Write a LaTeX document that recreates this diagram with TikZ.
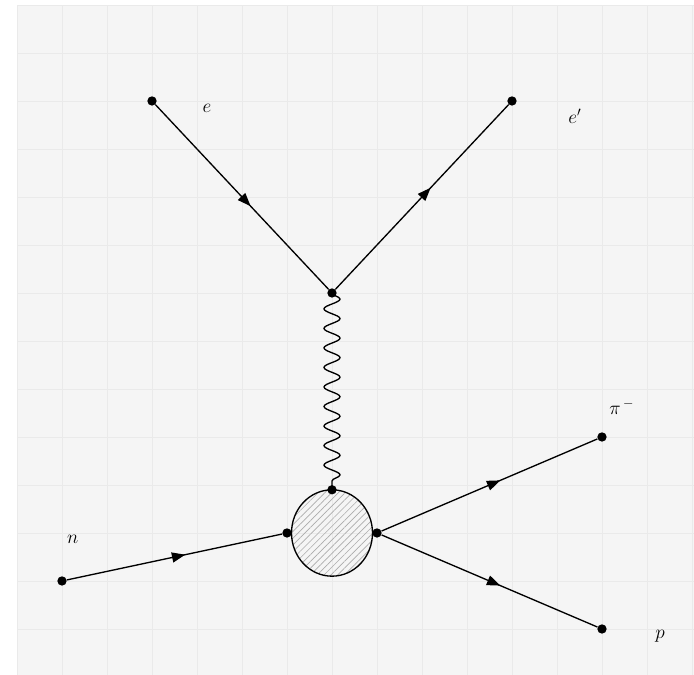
\documentclass[tikz,border=0pt]{standalone}
\usetikzlibrary{decorations.pathmorphing,decorations.markings,patterns.meta,arrows.meta,shapes.geometric}
\definecolor{bgc}{HTML}{F5F5F5}
\definecolor{gridc}{HTML}{EAEAEA}
\begin{document}
\begin{tikzpicture}[x=33.75pt,y=36pt,
  dot/.style={circle,fill=black,inner sep=0pt,minimum size=7pt},
  fermion/.style={draw,line width=1pt,postaction={decorate},
    decoration={markings,mark=at position 0.55 with {\arrow{Triangle[length=10pt,width=7.5pt]}}}},
  photon/.style={draw,line width=1pt,decorate,
    decoration={snake,segment length=14.65pt,amplitude=6pt,pre length=0pt,post length=0pt}},
  lbl/.style={font=\Large,inner sep=0pt}]
\useasboundingbox (-1.3778,-1.9583) rectangle (14.0444,12.104);
\fill[bgc] (-1,-1.9583) rectangle (14.0444,12);
\foreach \x in {-1,...,14} \draw[gridc,line width=0.6pt] (\x,-1.9583) -- (\x,12);
\foreach \y in {-1,...,12} \draw[gridc,line width=0.6pt] (-1,\y) -- (14.0444,\y);
% blob
\node[draw,ellipse,line width=1pt,minimum width=60.75pt,minimum height=64.8pt,inner sep=0pt,
  pattern={Lines[angle=45,distance=3.6pt,line width=0.5pt]},pattern color=gray!65] (blob) at (6,1) {};
% vertices
\node[dot] (e) at (2,10) {};
\node[dot] (v) at (6,6) {};
\node[dot] (ep) at (10,10) {};
\node[dot] (bt) at (6,1.9) {};
\node[dot] (bl) at (5,1) {};
\node[dot] (br) at (7,1) {};
\node[dot] (n) at (0,0) {};
\node[dot] (pi) at (12,3) {};
\node[dot] (p) at (12,-1) {};
% lines
\draw[fermion] (e) -- (v);
\draw[fermion] (v) -- (ep);
\draw[fermion] (n) -- (bl);
\draw[fermion] (br) -- (pi);
\draw[fermion] (br) -- (p);
\draw[photon] (v.center) -- (bt.center);
% labels
\node[lbl] (le) at (3.22,9.85) {$e$};
\node[lbl] (lep) at (11.4,9.69) {$e^{\prime}$};
\node[lbl] (ln) at (0.24,0.875) {$n$};
\node[lbl] (lpi) at (12.44,3.62) {$\pi^{\,-}$};
\node[lbl] (lp) at (13.29,-1.15) {$p$};
\end{tikzpicture}
\end{document}
